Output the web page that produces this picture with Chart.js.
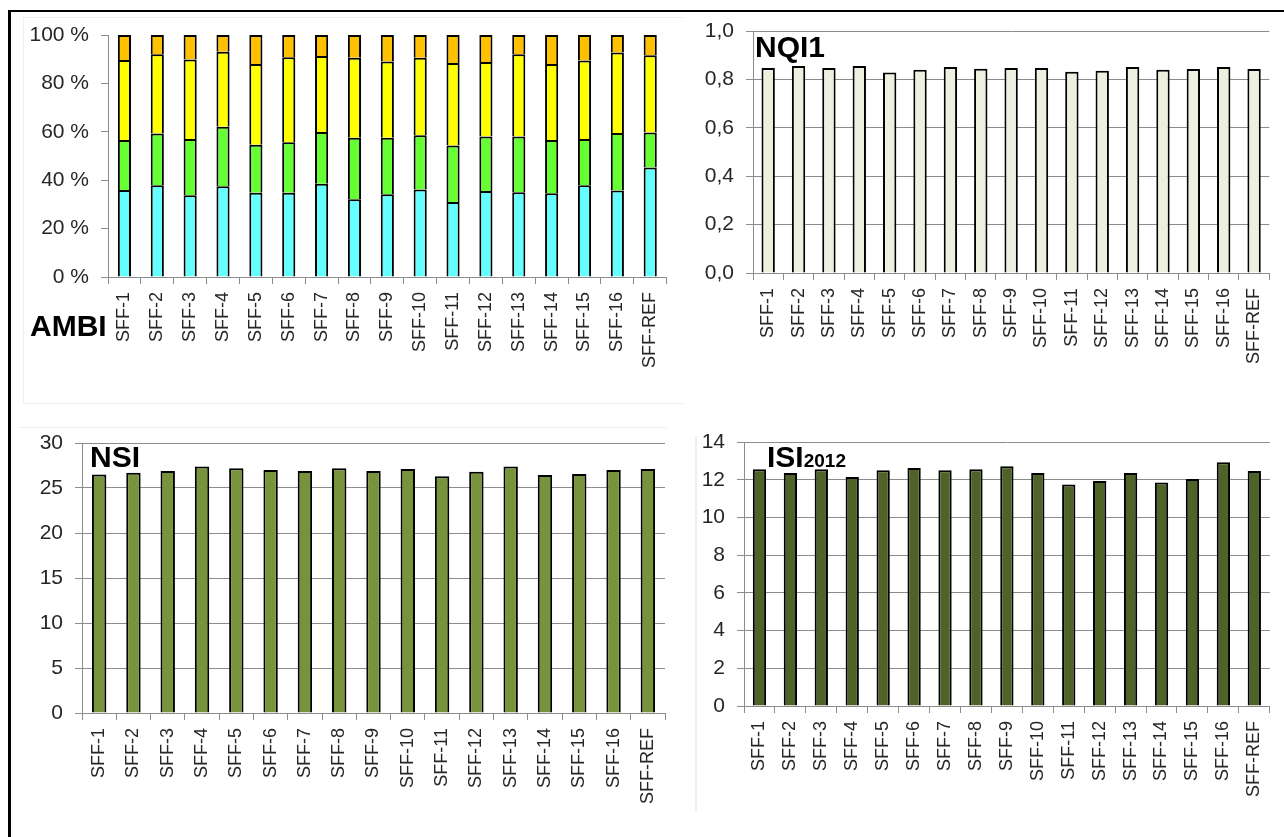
<!DOCTYPE html>
<html>
<head>
<meta charset="utf-8">
<script src="https://cdn.jsdelivr.net/npm/chart.js@4.4.1/dist/chart.umd.min.js"></script>
<style>
  body { margin: 0; background: #fff; width: 1284px; height: 837px; overflow: hidden; position: relative;
         font-family: "Liberation Sans", Arial, sans-serif; }
  .frame-top { position: absolute; left: 8px; top: 10px; width: 1276px; height: 2px; background: #000; }
  .frame-left { position: absolute; left: 8px; top: 10px; width: 3px; height: 827px; background: #000; }
  .faint { position: absolute; border: 1px solid #efefef; }
  .box { position: absolute; }
  .title { position: absolute; font-weight: bold; font-size: 30px; line-height: 30px; color: #000; white-space: nowrap; }
  .title span { font-size: 19px; }
</style>
</head>
<body>
<div class="frame-top"></div>
<div class="frame-left"></div>
<div class="faint" style="left:23px;top:17px;width:660px;height:385px;border-right:none"></div>
<div class="faint" style="left:18px;top:427px;width:647px;height:0;border-bottom:none"></div>
<div class="faint" style="left:695px;top:436px;width:0;height:374px"></div>

<div class="box" style="left:20px;top:20px"><canvas id="ambi" width="660" height="360"></canvas></div>
<div class="box" style="left:690px;top:15px"><canvas id="nqi" width="594" height="370"></canvas></div>
<div class="box" style="left:20px;top:425px"><canvas id="nsi" width="660" height="410"></canvas></div>
<div class="box" style="left:690px;top:425px"><canvas id="isi" width="594" height="410"></canvas></div>

<div class="title" style="left:30px;top:311px">AMBI</div>
<div class="title" style="left:755px;top:32px">NQI1</div>
<div class="title" style="left:90px;top:442px">NSI</div>
<div class="title" style="left:767px;top:442px">ISI<span>2012</span></div>

<script>
// Stasjoner
const stasjoner = ['SFF-1', 'SFF-2', 'SFF-3', 'SFF-4', 'SFF-5', 'SFF-6', 'SFF-7', 'SFF-8', 'SFF-9',
  'SFF-10', 'SFF-11', 'SFF-12', 'SFF-13', 'SFF-14', 'SFF-15', 'SFF-16', 'SFF-REF'];

// AMBI - andel (%) av økologiske grupper, nedenfra og opp
const ambiGr1 = [35.9, 37.9, 33.8, 37.5, 34.8, 34.8, 38.5, 32.1, 34.2, 36.2, 31.0, 35.5, 35.0, 34.6, 37.9, 35.7, 45.2];
const ambiGr2 = [20.7, 21.4, 23.2, 24.6, 19.8, 20.9, 21.4, 25.4, 23.3, 22.4, 23.3, 22.6, 23.1, 22.0, 19.1, 23.8, 14.5];
const ambiGr3 = [33.1, 32.7, 32.9, 31.0, 33.4, 35.1, 31.4, 33.1, 31.6, 32.0, 34.1, 30.7, 33.9, 31.4, 32.5, 33.3, 31.9];
const ambiGr4 = [10.3, 8.0, 10.1, 6.9, 12.0, 9.2, 8.7, 9.4, 10.9, 9.4, 11.6, 11.2, 8.0, 12.0, 10.5, 7.2, 8.4];

// Indekser
const nqi1 = [0.847, 0.855, 0.847, 0.855, 0.829, 0.840, 0.851, 0.844, 0.847, 0.847, 0.832, 0.836, 0.851, 0.840, 0.843, 0.851, 0.843];
const nsi = [26.5, 26.7, 26.9, 27.4, 27.2, 27.0, 26.9, 27.2, 26.9, 27.1, 26.3, 26.8, 27.4, 26.45, 26.55, 27.0, 27.1];
const isi2012 = [12.55, 12.36, 12.55, 12.15, 12.5, 12.62, 12.5, 12.55, 12.71, 12.36, 11.74, 11.93, 12.36, 11.85, 12.04, 12.92, 12.46];

Chart.defaults.font.family = '"Liberation Sans", Arial, sans-serif';
Chart.defaults.color = '#262626';

const grå = '#8c8c8c';

function lagDiagram(id, datasets, oppsett) {
  const ctx = document.getElementById(id).getContext('2d');
  return new Chart(ctx, {
    type: 'bar',
    data: { labels: stasjoner, datasets: datasets },
    options: {
      responsive: false,
      animation: false,
      layout: { padding: { top: oppsett.padTop, right: oppsett.padRight, left: 0, bottom: 0 } },
      plugins: { legend: { display: false }, tooltip: { enabled: false } },
      scales: {
        x: {
          stacked: !!oppsett.stacked,
          grid: { display: true, offset: true, drawOnChartArea: false, drawTicks: true, tickLength: 7, color: grå },
          border: { color: grå, width: 1 },
          ticks: { autoSkip: false, minRotation: 90, maxRotation: 90, padding: 8, font: { size: 18 }, color: '#262626' },
          afterFit: s => { s.height = oppsett.xHoyde; }
        },
        y: {
          stacked: !!oppsett.stacked,
          min: oppsett.min, max: oppsett.max,
          grid: { drawOnChartArea: oppsett.rutenett, tickLength: 7, color: grå, lineWidth: 1 },
          border: { color: grå, width: 1 },
          ticks: { stepSize: oppsett.steg, padding: 12, font: { size: 21 }, color: '#262626', callback: oppsett.format },
          afterFit: s => {
            s.width = oppsett.yBredde;
            // plottområdet skal ligge fast, uansett etikettstørrelse
            s.paddingTop = 0;
            s.paddingBottom = 0;
          }
        }
      }
    }
  });
}

function søyle(data, farge, andel) {
  return { data: data, backgroundColor: farge, borderColor: '#000', borderWidth: 2,
           categoryPercentage: 1, barPercentage: andel };
}

lagDiagram('ambi', [
  søyle(ambiGr1, '#66FFFF', 0.40),
  søyle(ambiGr2, '#66FF33', 0.40),
  søyle(ambiGr3, '#FFFF00', 0.40),
  søyle(ambiGr4, '#FFC000', 0.40)
], { stacked: true, min: 0, max: 100, steg: 20, rutenett: false, format: v => v + ' %',
     yBredde: 88, xHoyde: 103, padTop: 15, padRight: 6 });

lagDiagram('nqi', [søyle(nqi1, '#EBF1DE', 0.44)],
  { min: 0, max: 1, steg: 0.2, rutenett: true, format: v => v.toFixed(1).replace('.', ','),
    yBredde: 63, xHoyde: 112, padTop: 16, padRight: 11 });

lagDiagram('nsi', [søyle(nsi, '#77933C', 0.42)],
  { min: 0, max: 30, steg: 5, rutenett: true, format: v => v,
    yBredde: 62, xHoyde: 122, padTop: 18, padRight: 15 });

lagDiagram('isi', [søyle(isi2012, '#4F6228', 0.43)],
  { min: 0, max: 14, steg: 2, rutenett: true, format: v => v,
    yBredde: 54, xHoyde: 129, padTop: 17, padRight: 3 });
</script>
</body>
</html>
